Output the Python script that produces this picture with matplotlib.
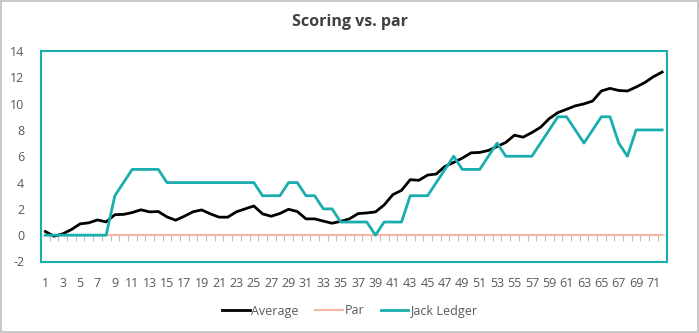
import matplotlib
matplotlib.use("Agg")
import matplotlib.pyplot as plt
from matplotlib.patches import Rectangle

plt.rcParams['font.family'] = ['Open Sans', 'DejaVu Sans']

holes = list(range(1, 73))
average = [0.28, -0.08, 0.1, 0.43, 0.86, 0.94, 1.16, 1.01, 1.56, 1.58,
           1.72, 1.93, 1.77, 1.8, 1.39, 1.14, 1.44, 1.78, 1.92, 1.62,
           1.37, 1.37, 1.78, 2.0, 2.22, 1.62, 1.44, 1.65, 1.97, 1.8,
           1.24, 1.24, 1.07, 0.91, 1.05, 1.24, 1.64, 1.69, 1.77, 2.3,
           3.08, 3.41, 4.22, 4.17, 4.57, 4.65, 5.23, 5.53, 5.86, 6.26,
           6.29, 6.44, 6.74, 7.05, 7.6, 7.45, 7.8, 8.2, 8.86, 9.32,
           9.57, 9.83, 9.98, 10.2, 10.96, 11.16, 11.0, 10.96, 11.26, 11.6,
           12.05, 12.4]
par = [0] * 72
jack = [0, 0, 0, 0, 0, 0, 0, 0, 3, 4,
        5, 5, 5, 5, 4, 4, 4, 4, 4, 4,
        4, 4, 4, 4, 4, 3, 3, 3, 4, 4,
        3, 3, 2, 2, 1, 1, 1, 1, 0, 1,
        1, 1, 3, 3, 3, 4, 5, 6, 5, 5,
        5, 6, 7, 6, 6, 6, 6, 7, 8, 9,
        9, 8, 7, 8, 9, 9, 7, 6, 8, 8,
        8, 8]
xtick_labels = [str(h) for h in holes if h % 2 == 1]
yticks = list(range(-2, 15, 2))

teal = '#1AADAD'
gray_text = '#595959'

fig = plt.figure(figsize=(6.99, 3.33), dpi=100)
fig.patches.append(Rectangle((0.0015, 0.003), 0.997, 0.994, transform=fig.transFigure,
                             fill=False, edgecolor='#BFBFBF', linewidth=1.2))

ax = fig.add_axes([41/699, 1 - 261.5/333, (666.5 - 41)/699, (261.5 - 51)/333])
ax.set_xlim(0.5, 72.5)
ax.set_ylim(-2, 14)

ax.plot(holes, par, color='#F7B7A7', lw=1.5, label='Par', zorder=3)
ax.plot(holes, average, color='black', lw=2.0, label='Average', zorder=4)
ax.plot(holes, jack, color=teal, lw=2.0, label='Jack Ledger', zorder=5)

for s in ax.spines.values():
    s.set_color(teal)
    s.set_linewidth(1.5)

ax.set_yticks(yticks)
ax.set_yticklabels([str(v) for v in yticks])
ax.tick_params(axis='y', length=0, pad=12, labelsize=9, labelcolor=gray_text)

odd = [h for h in holes if h % 2 == 1]
ax.set_xticks(odd)
ax.set_xticklabels(xtick_labels)
ax.tick_params(axis='x', length=0, pad=11, labelsize=9, labelcolor=gray_text)

sec = ax.secondary_xaxis(0.125)
sec.set_xticks([h + 0.5 for h in holes[:-1]] + [0.5, 72.5])
sec.tick_params(axis='x', direction='out', length=4, width=0.8, color='#BFBFBF', labelbottom=False)
sec.spines['bottom'].set_color('#D9D9D9')
sec.spines['bottom'].set_linewidth(0.8)

fig.text(0.5, 1 - 22/333, 'Scoring vs. par', ha='center', va='center',
         fontsize=11.5, fontweight='bold', color='#404040')

handles, labels = ax.get_legend_handles_labels()
order = [1, 0, 2]
leg = fig.legend([handles[i] for i in order], [labels[i] for i in order],
                 loc='center', bbox_to_anchor=(0.5, 1 - 311/333), ncol=3, frameon=False,
                 fontsize=9, handlelength=2.2, handletextpad=0.15, columnspacing=1.3,
                 labelcolor=gray_text)

fig.savefig('out.png', dpi=100)
